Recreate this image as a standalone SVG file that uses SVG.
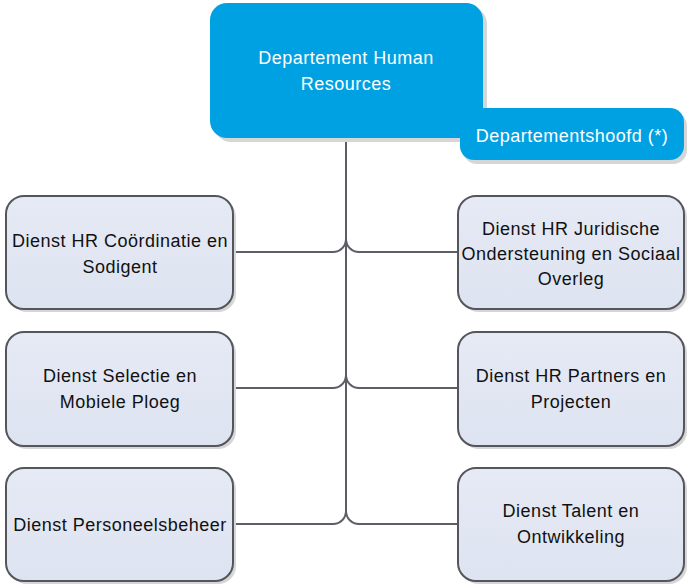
<svg xmlns="http://www.w3.org/2000/svg" width="687" height="585" viewBox="0 0 687 585">
<defs>
<linearGradient id="g" x1="0" y1="0" x2="0" y2="1">
<stop offset="0" stop-color="#e6eaf5"/>
<stop offset="1" stop-color="#dde3f0"/>
</linearGradient>
<style>
.box{fill:url(#g);stroke:#55555c;stroke-width:2}
.sh{fill:#d6d6d6}
.blue{fill:#00a1e2}
.t{font-family:"Liberation Sans",Arial,sans-serif;font-size:18px;letter-spacing:0.5px;fill:#111;text-anchor:middle}
.w{fill:#ffffff}
.c{fill:none;stroke:#5d5d65;stroke-width:2}
</style>
</defs>
<rect width="687" height="585" fill="#ffffff"/>
<g id="connectors">
<path class="c" d="M346,138 V511"/>
<path class="c" d="M233,252 H333 A13,13 0 0 0 346,239"/>
<path class="c" d="M346,239 A13,13 0 0 0 359,252 H458"/>
<path class="c" d="M233,388 H333 A13,13 0 0 0 346,375"/>
<path class="c" d="M346,375 A13,13 0 0 0 359,388 H458"/>
<path class="c" d="M233,524 H333 A13,13 0 0 0 346,511"/>
<path class="c" d="M346,511 A13,13 0 0 0 359,524 H458"/>
</g>
<g id="top">
<rect class="sh" x="214" y="7" width="273" height="135" rx="17"/>
<rect class="blue" x="210" y="3" width="273" height="135" rx="17"/>
<text class="t w" x="346" y="64">Departement Human</text>
<text class="t w" x="346" y="90">Resources</text>
</g>
<g id="head">
<rect class="sh" x="463" y="112" width="224" height="52" rx="14"/>
<rect class="blue" x="460" y="108" width="224" height="52" rx="14"/>
<text class="t w" x="572" y="142">Departementshoofd (*)</text>
</g>
<g id="n1">
<rect class="sh" x="9" y="199" width="227" height="113" rx="18"/>
<rect class="box" x="6" y="196" width="227" height="113" rx="18"/>
<text class="t" x="120" y="247">Dienst HR Coördinatie en</text>
<text class="t" x="120" y="273">Sodigent</text>
</g>
<g id="n2">
<rect class="sh" x="9" y="335" width="227" height="114" rx="18"/>
<rect class="box" x="6" y="332" width="227" height="114" rx="18"/>
<text class="t" x="120" y="382">Dienst Selectie en</text>
<text class="t" x="120" y="408">Mobiele Ploeg</text>
</g>
<g id="n3">
<rect class="sh" x="9" y="471" width="227" height="113" rx="18"/>
<rect class="box" x="6" y="468" width="227" height="113" rx="18"/>
<text class="t" x="120" y="531">Dienst Personeelsbeheer</text>
</g>
<g id="n4">
<rect class="sh" x="461" y="199" width="226" height="113" rx="18"/>
<rect class="box" x="458" y="196" width="226" height="113" rx="18"/>
<text class="t" x="571" y="235">Dienst HR Juridische</text>
<text class="t" x="571" y="260">Ondersteuning en Sociaal</text>
<text class="t" x="571" y="285">Overleg</text>
</g>
<g id="n5">
<rect class="sh" x="461" y="335" width="226" height="114" rx="18"/>
<rect class="box" x="458" y="332" width="226" height="114" rx="18"/>
<text class="t" x="571" y="382">Dienst HR Partners en</text>
<text class="t" x="571" y="408">Projecten</text>
</g>
<g id="n6">
<rect class="sh" x="461" y="471" width="226" height="113" rx="18"/>
<rect class="box" x="458" y="468" width="226" height="113" rx="18"/>
<text class="t" x="571" y="517">Dienst Talent en</text>
<text class="t" x="571" y="543">Ontwikkeling</text>
</g>
</svg>
